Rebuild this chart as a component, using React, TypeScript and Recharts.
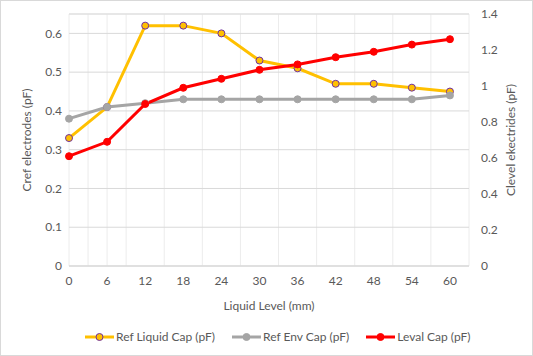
import React from "react";
import {
  LineChart,
  Line,
  XAxis,
  YAxis,
  CartesianGrid,
} from "recharts";

const levels = [0, 6, 12, 18, 24, 30, 36, 42, 48, 54, 60];
const refLiquid = [0.33, 0.41, 0.62, 0.62, 0.6, 0.53, 0.51, 0.47, 0.47, 0.46, 0.45];
const refEnv = [0.38, 0.41, 0.42, 0.43, 0.43, 0.43, 0.43, 0.43, 0.43, 0.43, 0.44];
const levalCap = [0.61, 0.69, 0.9, 0.99, 1.04, 1.09, 1.12, 1.16, 1.19, 1.23, 1.26];

const xTicks = [0, 6, 12, 18, 24, 30, 36, 42, 48, 54, 60];
const xMinorTicks = Array.from({ length: 22 }, (_, i) => i * 3);
const leftTicks = [0, 0.1, 0.2, 0.3, 0.4, 0.5, 0.6];
const leftMinorTicks = Array.from({ length: 33 }, (_, i) => +(i * 0.02).toFixed(2));
const rightTicks = [0, 0.2, 0.4, 0.6, 0.8, 1, 1.2, 1.4];

const data = levels.map((level, i) => ({
  level,
  refLiquid: refLiquid[i],
  refEnv: refEnv[i],
  levalCap: levalCap[i],
}));

const font = "Lato, 'Open Sans', sans-serif";
const tickStyle = { fontSize: 12, fill: "#595959", fontFamily: font };

const legendItems = [
  { name: "Ref Liquid Cap (pF)", color: "#ffc000", dotFill: "#ffc000", dotStroke: "#7030a0" },
  { name: "Ref Env Cap (pF)", color: "#a5a5a5", dotFill: "#a5a5a5", dotStroke: "#a5a5a5" },
  { name: "Leval Cap (pF)", color: "#ff0000", dotFill: "#ff0000", dotStroke: "#ff0000" },
];

export default function App() {
  return (
    <div
      style={{
        position: "absolute",
        left: 0,
        top: 0,
        width: 533,
        height: 356,
        boxSizing: "border-box",
        border: "1px solid #d9d9d9",
        background: "#fff",
        fontFamily: font,
      }}
    >
      <LineChart
        width={531}
        height={354}
        data={data}
        margin={{ top: 13, right: 0, bottom: 43, left: 0 }}
      >
        <XAxis xAxisId="minor" dataKey="level" type="number" domain={[0, 63]} ticks={xMinorTicks} hide />
        <YAxis yAxisId="minor" type="number" domain={[0, 0.65]} ticks={leftMinorTicks} hide />
        <CartesianGrid xAxisId="minor" yAxisId="minor" stroke="#ececec" strokeWidth={1} />
        <CartesianGrid yAxisId="left" vertical={false} stroke="#d9d9d9" strokeWidth={1} />
        <XAxis
          dataKey="level"
          type="number"
          domain={[0, 63]}
          ticks={xTicks}
          tickLine={false}
          tickSize={0}
          tickMargin={10}
          axisLine={{ stroke: "#d9d9d9" }}
          tick={tickStyle}
          height={46}
          label={{
            value: "Liquid Level  (mm)",
            position: "insideBottom",
            offset: 2,
            style: { fontSize: 12, fill: "#595959", fontFamily: font },
          }}
        />
        <YAxis
          yAxisId="left"
          orientation="left"
          domain={[0, 0.65]}
          ticks={leftTicks}
          tickLine={false}
          axisLine={false}
          tickSize={0}
          tickMargin={7}
          width={68}
          tick={tickStyle}
          label={{
            value: "Cref electrodes (pF)",
            angle: -90,
            position: "insideLeft",
            offset: 26,
            style: { textAnchor: "middle", fontSize: 12, fill: "#595959", fontFamily: font },
          }}
        />
        <YAxis
          yAxisId="right"
          orientation="right"
          domain={[0, 1.4]}
          ticks={rightTicks}
          tickLine={false}
          axisLine={false}
          tickSize={0}
          tickMargin={12}
          width={63}
          tick={tickStyle}
          label={{
            value: "Clevel ekectrides (pF)",
            angle: -90,
            position: "insideRight",
            offset: 21,
            style: { textAnchor: "middle", fontSize: 12, fill: "#595959", fontFamily: font },
          }}
        />
        <Line
          yAxisId="left"
          dataKey="refLiquid"
          stroke="#ffc000"
          strokeWidth={3}
          dot={{ r: 3.5, fill: "#ffc000", stroke: "#7030a0", strokeWidth: 1 }}
          isAnimationActive={false}
        />
        <Line
          yAxisId="left"
          dataKey="refEnv"
          stroke="#a5a5a5"
          strokeWidth={3}
          dot={{ r: 3.5, fill: "#a5a5a5", stroke: "#a5a5a5", strokeWidth: 1 }}
          isAnimationActive={false}
        />
        <Line
          yAxisId="right"
          dataKey="levalCap"
          stroke="#ff0000"
          strokeWidth={3}
          dot={{ r: 3.5, fill: "#ff0000", stroke: "#ff0000", strokeWidth: 1 }}
          isAnimationActive={false}
        />
      </LineChart>
      <div
        style={{
          position: "absolute",
          top: 327,
          left: 84,
          display: "flex",
          alignItems: "center",
          fontSize: 12,
          color: "#595959",
          lineHeight: "18px",
        }}
      >
        {legendItems.map((item, i) => (
          <div key={item.name} style={{ display: "flex", alignItems: "center", marginRight: i < 2 ? 17 : 0 }}>
            <svg width={29} height={10} style={{ marginRight: 2 }}>
              <line x1={0} y1={5} x2={29} y2={5} stroke={item.color} strokeWidth={3} />
              <circle cx={14.5} cy={5} r={3.5} fill={item.dotFill} stroke={item.dotStroke} strokeWidth={1} />
            </svg>
            <span>{item.name}</span>
          </div>
        ))}
      </div>
    </div>
  );
}
